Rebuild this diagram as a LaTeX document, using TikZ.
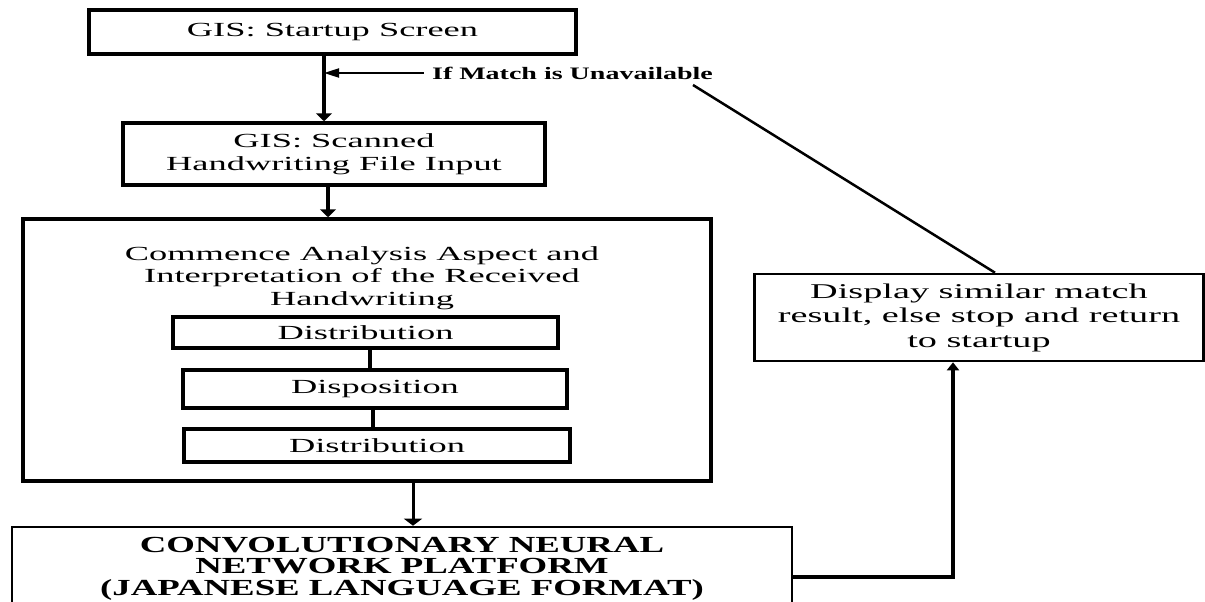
\documentclass[tikz,border=0pt]{standalone}
\usepackage{fontspec}
\setmainfont{Liberation Serif}[FakeStretch=1.82]
\newfontfamily\cnnfont{Liberation Serif}[FakeStretch=1.6]
\usetikzlibrary{arrows.meta}

\begin{document}
\begin{tikzpicture}[x=1pt,y=-1pt,
    box/.style={draw,line width=3.5pt,inner sep=0pt,align=center,
      font=\fontsize{20}{23}\selectfont},
    thinbox/.style={draw,line width=2.6pt,inner sep=0pt,align=center},
    flow/.style={line width=4pt,-{Triangle[length=8pt,width=16pt]}},
    link/.style={line width=4pt}]
    \useasboundingbox (0,0) rectangle (1205,602);
    \clip (0,0) rectangle (1205,602);

    % Main column
    \node[box,minimum width=487pt,minimum height=44pt] (start) at (332.5,32) {GIS: Startup Screen};
    \node[box,minimum width=422pt,minimum height=62pt] (scan) at (334,154) {GIS: Scanned\\Handwriting File Input};
    \node[box,minimum width=688pt,minimum height=262pt] (analysis) at (367,350) {};
    \node[align=center,inner sep=0pt,font=\fontsize{20}{22.5}\selectfont] (title) at (362,278)
        {Commence Analysis Aspect and\\Interpretation of the Received\\Handwriting};

    % Aspects inside the analysis box
    \node[box,minimum width=385pt,minimum height=31pt] (dist1) at (365.5,332.5) {Distribution};
    \node[box,minimum width=384pt,minimum height=38pt] (dispo) at (375,389) {Disposition};
    \node[box,minimum width=386pt,minimum height=33pt] (dist2) at (377,445.5) {Distribution};
    \draw[link] ([xshift=4.5pt]dist1.south) -- ([xshift=-5pt]dispo.north);
    \draw[link] ([xshift=-2pt]dispo.south) -- ([xshift=-4pt]dist2.north);

    % CNN platform and result
    \node[thinbox,minimum width=780pt,minimum height=83pt,
        font=\cnnfont\bfseries\fontsize{23}{21.5}\selectfont] (cnn) at (402,568.5)
        {CONVOLUTIONARY NEURAL\\NETWORK PLATFORM\\(JAPANESE LANGUAGE FORMAT)};
    \node[thinbox,minimum width=449pt,minimum height=87pt,
        font=\fontsize{21}{24.5}\selectfont] (disp) at (979,317.5)
        {Display similar match\\result, else stop and return\\to startup};

    % Return label
    \node[inner sep=0pt,font=\cnnfont\bfseries\fontsize{17.5}{20}\selectfont] (lbl) at (572.5,73)
        {If Match is Unavailable};
    \coordinate (kink) at (693,85);

    % Connectors
    \coordinate (trunk) at ([xshift=-10pt]scan.north);
    \draw[flow] ([xshift=-8.5pt]start.south) -- (trunk);
    \draw[line width=2pt,-{Triangle[length=15pt,width=9pt]}] ([xshift=-8pt]lbl.west) -- (lbl.west -| trunk);
    \coordinate (a1) at ([xshift=-6pt]scan.south);
    \draw[flow] (a1) -- (a1 |- analysis.north);
    \coordinate (a2) at ([xshift=46pt]analysis.south);
    \draw[line width=3pt,-{Triangle[length=7pt,width=18pt]}] (a2) -- (a2 |- cnn.north);
    \draw[line width=3.5pt,-{Triangle[length=8pt,width=12pt]}] ([yshift=-8.5pt]cnn.east) -| ([xshift=-26pt]disp.south);
    \draw[line width=2.5pt] ([xshift=16pt]disp.north) -- (kink);
\end{tikzpicture}
\end{document}
